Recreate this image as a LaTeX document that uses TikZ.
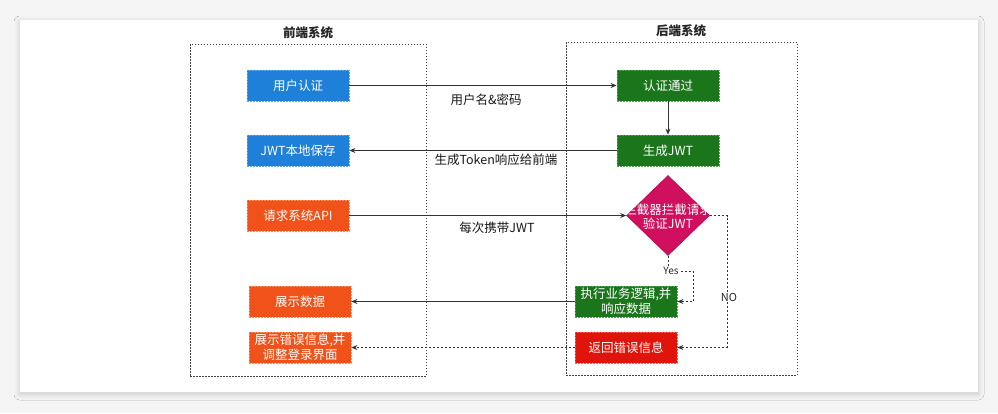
\documentclass[tikz,border=0pt]{standalone}
\usepackage{fontspec}
\setmainfont{Noto Sans CJK SC}
\usetikzlibrary{arrows.meta,shapes.geometric,shadows.blur}
\definecolor{cblue}{HTML}{1E80D8}
\definecolor{cblueb}{HTML}{5AA8EC}
\definecolor{corange}{HTML}{F0521A}
\definecolor{corangeb}{HTML}{F7905F}
\definecolor{cgreen}{HTML}{1B761B}
\definecolor{cgreenb}{HTML}{4FA04F}
\definecolor{cred}{HTML}{E0140A}
\definecolor{credb}{HTML}{F06050}
\definecolor{cmag}{HTML}{D0105F}
\definecolor{cline}{HTML}{333333}
\tikzset{
  box/.style={rectangle, minimum width=102pt, minimum height=31pt, inner sep=0pt,
    text=white, align=center, font=\fontsize{12.5}{15}\selectfont,
    dash pattern=on 2pt off 1pt, line width=0.8pt},
  bluebox/.style={box, fill=cblue, draw=cblueb},
  orangebox/.style={box, fill=corange, draw=corangeb},
  greenbox/.style={box, fill=cgreen, draw=cgreenb},
  redbox/.style={box, fill=cred, draw=credb},
  grp/.style={rectangle, draw=black!75, dash pattern=on 1.5pt off 1.5pt, line width=0.8pt, inner sep=0pt},
  ttl/.style={font=\fontsize{12.5}{15}\selectfont\bfseries, text=black!85},
  lbl/.style={font=\fontsize{12.5}{15}\selectfont, text=black!90},
  arr/.style={draw=cline, line width=0.8pt, -{Stealth[length=6pt,width=5pt]}},
  dotarr/.style={arr, dash pattern=on 2pt off 2pt},
}
\begin{document}
\begin{tikzpicture}[x=1pt,y=-1pt]
\useasboundingbox (0,0) rectangle (998,413);
\fill[black!4] (0,0) rectangle (998,413);
\fill[white, blur shadow={shadow blur steps=12, shadow xshift=0pt, shadow yshift=-2pt, shadow opacity=18, shadow blur radius=6pt}] (20,20) rectangle (978,392);

% groups
\node[grp, minimum width=236pt, minimum height=332pt] (fe) at (308,210) {};
\node[grp, minimum width=231pt, minimum height=333pt] (be) at (681.5,208.5) {};
\node[ttl] (fet) at (308,33) {前端系统};
\node[ttl] (bet) at (681,31) {后端系统};

% front-end boxes
\node[bluebox] (a1) at (298,85.5) {用户认证};
\node[bluebox] (a2) at (298,150.5) {JWT本地保存};
\node[orangebox] (a3) at (298,215.5) {请求系统API};
\node[orangebox] (a4) at (300,301.5) {展示数据};
\node[orangebox] (a5) at (300,347.5) {展示错误信息,并\\调整登录界面};

% back-end boxes
\node[greenbox] (b1) at (668,85.5) {认证通过};
\node[greenbox] (b2) at (668,150.5) {生成JWT};
\node[diamond, fill=cmag, draw=cmag!85!black, minimum width=83pt, minimum height=80pt, inner sep=0pt, line width=0.6pt] (dia) at (668,215.5) {};
\node[text=white, align=center, font=\fontsize{12.5}{14}\selectfont] (diat) at (668,216.5) {拦截器拦截请求\\验证JWT};
\node[greenbox] (b3) at (626,301.5) {执行业务逻辑,并\\响应数据};
\node[redbox] (b4) at (626,347.5) {返回错误信息};

% connectors
\draw[arr] (a1) -- (b1);
\node[lbl] (l1) at (486,100) {用户名\&密码};
\draw[arr] (b1) -- (b2);
\draw[arr] (b2) -- (a2);
\node[lbl] (l2) at (496,160) {生成Token响应给前端};
\draw[arr] (a3) -- (dia);
\node[lbl] (l3) at (497,228) {每次携带JWT};

\coordinate (yesc) at (693,271);
\coordinate (noc) at (727,215.5);
\draw[dotarr] (dia.south) |- (yesc) |- (b3.east);
\node[fill=white, inner sep=1pt, font=\fontsize{10}{12}\selectfont, text=black!85] (yes) at (671,271) {Yes};
\draw[dotarr] (dia.east) -- (noc) |- (b4.east);
\node[fill=white, inner sep=1pt, font=\fontsize{11}{13}\selectfont, text=black!85] (no) at (729,297) {NO};

\draw[arr] (b3) -- (a4);
\draw[dotarr] (b4) -- (a5);
\end{tikzpicture}
\end{document}
